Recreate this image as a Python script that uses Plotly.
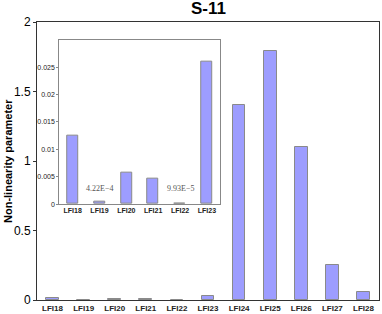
import plotly.graph_objects as go

categories = ["LFI18", "LFI19", "LFI20", "LFI21", "LFI22", "LFI23",
              "LFI24", "LFI25", "LFI26", "LFI27", "LFI28"]
values = [0.0125, 0.000422, 0.0058, 0.0046, 0.0000993, 0.0259,
          1.40, 1.79, 1.10, 0.25, 0.055]

inset_categories = categories[:6]
inset_values = values[:6]
inset_notes = {"LFI19": "4.22E\u22124", "LFI22": "9.93E\u22125"}

main_ticks = [0, 0.5, 1, 1.5, 2]
main_ticktext = ["0", "0.5", "1", "1.5", "2"]
inset_ticks = [0, 0.005, 0.01, 0.015, 0.02, 0.025]
inset_ticktext = ["0", "0.005", "0.01", "0.015", "0.02", "0.025"]

bar_color = "#9d9dff"
edge = "#8a8a8a"

fig = go.Figure()
fig.add_trace(go.Bar(x=categories, y=values, width=0.41,
                     marker=dict(color=bar_color, line=dict(color=edge, width=1)),
                     xaxis="x", yaxis="y", showlegend=False, hoverinfo="skip"))
fig.add_trace(go.Bar(x=inset_categories, y=inset_values, width=0.41,
                     marker=dict(color=bar_color, line=dict(color=edge, width=1)),
                     xaxis="x2", yaxis="y2", showlegend=False, hoverinfo="skip"))

annotations = [
    dict(text="<b>S-11</b>", xref="paper", yref="paper", x=0.5, y=1.0,
         yshift=2, xanchor="center", yanchor="bottom", showarrow=False,
         font=dict(family="Arial", size=17, color="black")),
    dict(text="<b>Non-linearity parameter</b>", xref="paper", yref="paper",
         x=0, xshift=-29, y=0.5, textangle=-90, showarrow=False,
         xanchor="center", yanchor="middle",
         font=dict(family="Arial", size=11, color="black")),
]
for cat, note in inset_notes.items():
    annotations.append(dict(text=note, x=cat, y=0.0028, xref="x2", yref="y2",
                            showarrow=False,
                            font=dict(family="Liberation Serif", size=8, color="#555555")))

fig.update_layout(
    width=382, height=314,
    margin=dict(l=37, r=3, t=22, b=14),
    plot_bgcolor="white", paper_bgcolor="white",
    bargap=0,
    annotations=annotations,
    xaxis=dict(domain=[0, 1], showline=True, linecolor="#333", linewidth=1, mirror=True,
               ticks="", tickvals=categories,
               ticktext=["<b>%s</b>" % c for c in categories],
               tickfont=dict(family="Arial", size=8, color="#222"),
               tickangle=0, range=[-0.5, 10.5], automargin=False),
    yaxis=dict(domain=[0, 1], range=[0, 2], tickvals=main_ticks, ticktext=main_ticktext,
               showline=True, linecolor="#333", linewidth=1, mirror=True,
               ticks="outside", ticklen=3, tickcolor="#333", showgrid=False, zeroline=False,
               tickfont=dict(family="Arial", size=12, color="black"), automargin=False),
    xaxis2=dict(domain=[0.065, 0.536], anchor="y2", showline=True, linecolor="#888",
                linewidth=1, mirror=True, ticks="", range=[-0.5, 5.5],
                tickvals=inset_categories,
                ticktext=["<b>%s</b>" % c for c in inset_categories],
                tickfont=dict(family="Arial", size=7, color="#222"), automargin=False),
    yaxis2=dict(domain=[0.345, 0.9365], anchor="x2", range=[0, 0.03],
                tickvals=inset_ticks, ticktext=inset_ticktext,
                showline=True, linecolor="#888", linewidth=1, mirror=True,
                ticks="outside", ticklen=2, tickcolor="#888", showgrid=False, zeroline=False,
                tickfont=dict(family="Arial", size=7, color="#222"), automargin=False),
)

fig.write_html("out.html", config={"displayModeBar": False},
               post_script="document.body.style.margin='0';document.body.style.padding='0';")
